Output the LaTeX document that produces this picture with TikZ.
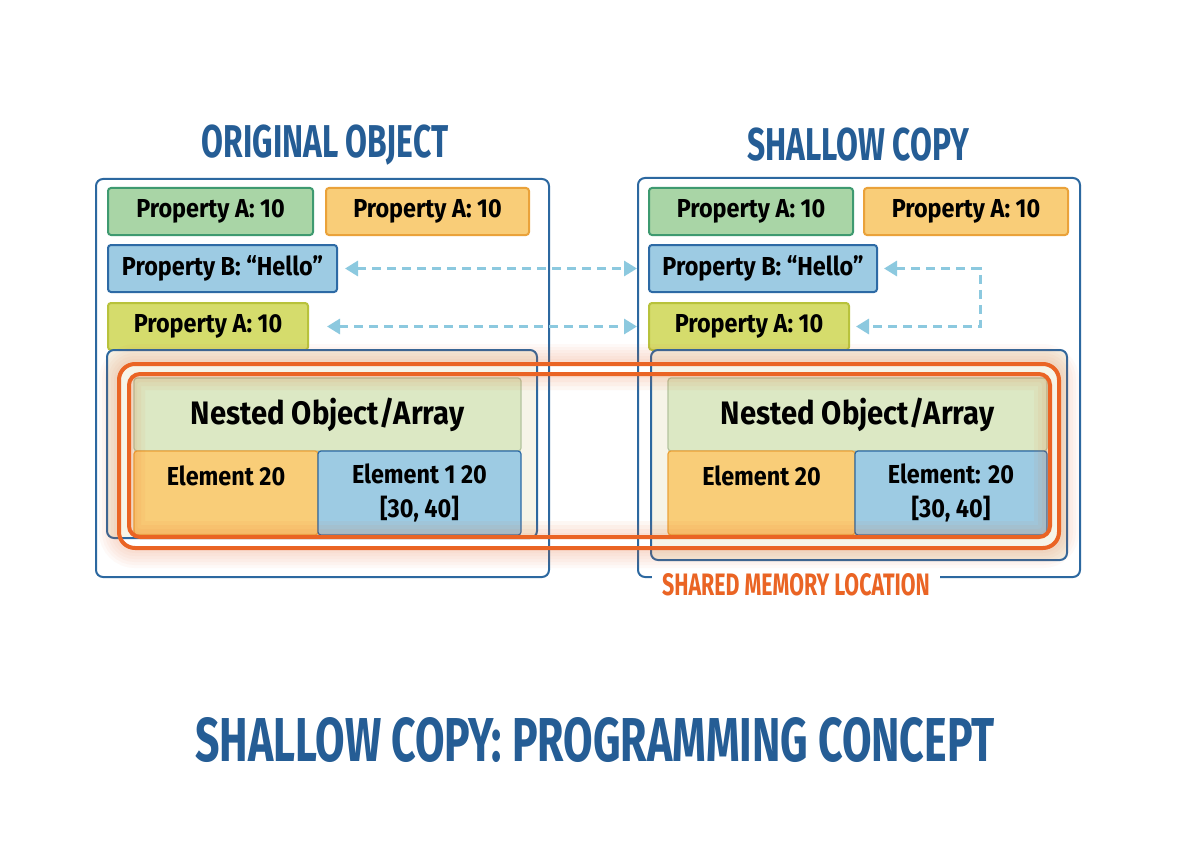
\documentclass[tikz,border=0pt]{standalone}
\usepackage{fontspec}
\setmainfont{Fira Sans}[FakeStretch=0.9]
\newfontfamily\headfont{Fira Sans}[FakeStretch=0.69]
\usetikzlibrary{arrows.meta}
\definecolor{titleblue}{HTML}{255D95}
\definecolor{frameblue}{HTML}{2C68A0}
\definecolor{greenfill}{HTML}{A9D5A6}
\definecolor{greenline}{HTML}{3E9A70}
\definecolor{orangefill}{HTML}{F9CD78}
\definecolor{orangeline}{HTML}{EAA23A}
\definecolor{bluefill}{HTML}{9DCBE3}
\definecolor{blueline}{HTML}{2D6AA5}
\definecolor{limefill}{HTML}{D5DC6C}
\definecolor{limeline}{HTML}{B8C23C}
\definecolor{nestfill}{HTML}{DCE8C4}
\definecolor{nestline}{HTML}{B3C39E}
\definecolor{cream}{HTML}{F6F4E8}
\definecolor{hot}{HTML}{EA6424}
\definecolor{linkblue}{HTML}{8CC9DF}
\begin{document}
\begin{tikzpicture}[x=1pt,y=-1pt,
    frame/.style={draw=frameblue, line width=2pt, rounded corners=7pt, inner sep=0pt},
    prop/.style={rounded corners=3pt, line width=2pt, inner sep=0pt, minimum height=47pt,
      font=\fontsize{26}{30}\selectfont\bfseries},
    cell/.style={rounded corners=3pt, line width=1.2pt, inner sep=0pt, align=center,
      font=\fontsize{26}{34}\selectfont\bfseries},
    heading/.style={text=titleblue, font=\fontsize{46}{50}\selectfont\headfont\bfseries},
    link/.style={linkblue, line width=3pt, dash pattern=on 9pt off 6pt,
      {Triangle[length=13pt,width=15pt]}-{Triangle[length=13pt,width=15pt]}}]
  \fill[white] (0,0) rectangle (1184,864);
  \useasboundingbox (0,0) rectangle (1184,864);
  % headings
  \node[heading] (htop1) at (325,145) {ORIGINAL OBJECT};
  \node[heading] (htop2) at (858,145) {SHALLOW COPY};
  \node[heading, font=\fontsize{62}{66}\selectfont\headfont\bfseries] (hbottom) at (595,740)
    {SHALLOW COPY: PROGRAMMING CONCEPT};
  % the two objects
  \node[frame, fill=white, minimum width=453pt, minimum height=398pt] (orig) at (322.5,378) {};
  \node[frame, fill=white, minimum width=442pt, minimum height=399pt] (copy) at (859,377.5) {};
  % original properties
  \node[prop, fill=greenfill, draw=greenline, minimum width=205pt] (oA1) at (210.5,211.5) {Property A: 10};
  \node[prop, fill=orangefill, draw=orangeline, minimum width=203pt] (oA2) at (427.5,211.5) {Property A: 10};
  \node[prop, fill=bluefill, draw=blueline, minimum width=229pt] (oB) at (222.5,268.5) {Property B: “Hello”};
  \node[prop, fill=limefill, draw=limeline, minimum width=200pt] (oA3) at (208,326.5) {Property A: 10};
  % copied properties
  \node[prop, fill=greenfill, draw=greenline, minimum width=204pt] (cA1) at (751,211.5) {Property A: 10};
  \node[prop, fill=orangefill, draw=orangeline, minimum width=204pt] (cA2) at (966,211.5) {Property A: 10};
  \node[prop, fill=bluefill, draw=blueline, minimum width=228pt] (cB) at (763,268.5) {Property B: “Hello”};
  \node[prop, fill=limefill, draw=limeline, minimum width=200pt] (cA3) at (749,326.5) {Property A: 10};
  % nested containers
  \node[frame, fill=cream, minimum width=430pt, minimum height=188pt] (onest) at (322,444) {};
  \node[frame, fill=cream, minimum width=416pt, minimum height=210pt] (cnest) at (859,455) {};
  \node[cell, fill=nestfill, draw=nestline, minimum width=387pt, minimum height=73pt,
    font=\fontsize{32.5}{36}\selectfont\bfseries] (oHead) at (327.5,414.5) {Nested Object/Array};
  \node[cell, fill=orangefill, draw=orangeline, minimum width=184pt, minimum height=84pt] (oE1) at (226,493) {Element 20\\\mbox{}};
  \node[cell, fill=bluefill, draw=blueline, minimum width=203pt, minimum height=84pt] (oE2) at (419.5,493) {Element 1 20\\{[}30, 40{]}};
  \node[cell, fill=nestfill, draw=nestline, minimum width=379pt, minimum height=73pt,
    font=\fontsize{32.5}{36}\selectfont\bfseries] (cHead) at (857.5,414.5) {Nested Object/Array};
  \node[cell, fill=orangefill, draw=orangeline, minimum width=187pt, minimum height=84pt] (cE1) at (761.5,493) {Element 20\\\mbox{}};
  \node[cell, fill=bluefill, draw=blueline, minimum width=192pt, minimum height=84pt] (cE2) at (951,493) {Element: 20\\{[}30, 40{]}};
  % shared memory ring with glow
  \begin{scope}[even odd rule, rounded corners=16pt]
    \clip (-10,-10) rectangle (1194,874) (119,364) rectangle (1059,548);
    \foreach \w in {40,34,28,22,16,10}
      \draw[hot, opacity=.035, line width=\w pt] (119,364) rectangle (1059,548);
  \end{scope}
  \begin{scope}[rounded corners=11pt]
    \clip (129,374) rectangle (1050,537);
    \foreach \w in {32,24,16,8}
      \draw[hot, opacity=.05, line width=\w pt] (129,374) rectangle (1050,537);
  \end{scope}
  \draw[hot, line width=4pt, rounded corners=16pt] (119,364) rectangle (1059,548);
  \draw[hot, line width=4pt, rounded corners=11pt] (129,374) rectangle (1050,537);
  \node[fill=white, text=hot, inner sep=0pt, minimum width=288pt, minimum height=26pt,
    font=\fontsize{31}{34}\selectfont\headfont\bfseries] (shared) at (796,585) {SHARED MEMORY LOCATION};
  % references
  \coordinate (loop) at (980,300);
  \draw[link, shorten <=7pt, shorten >=11pt] (oB.east) -- (cB.west);
  \draw[link, shorten <=18pt, shorten >=11pt] (oA3.east) -- (cA3.west);
  \draw[link, shorten <=6pt, shorten >=6pt] (cB.east) -- (cB.east -| loop) -- (cA3.east -| loop) -- (cA3.east);
\end{tikzpicture}
\end{document}
